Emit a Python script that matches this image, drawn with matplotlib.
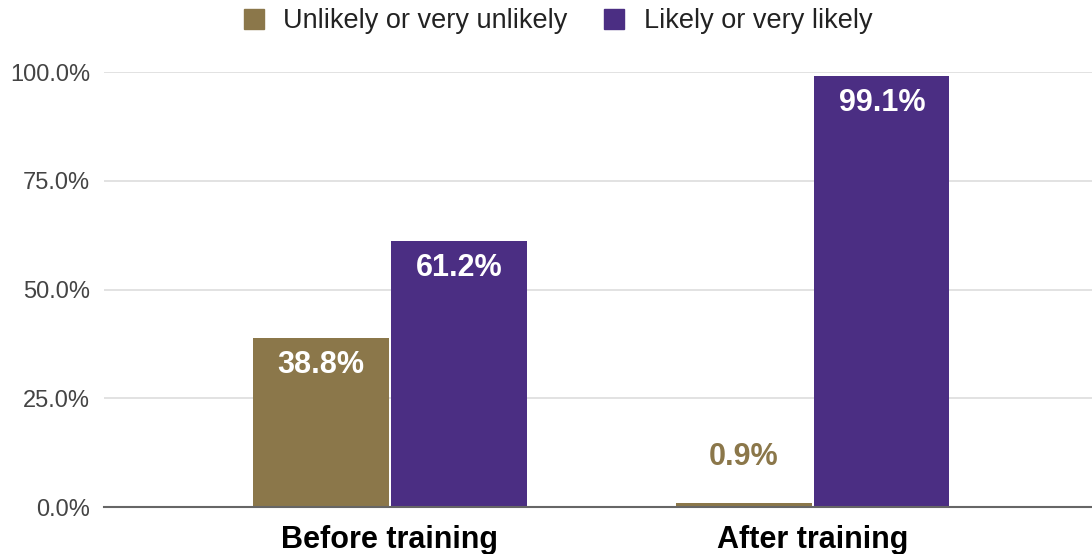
import numpy as np
import matplotlib.pyplot as plt
from matplotlib.lines import Line2D

plt.rcParams['font.family'] = ['Liberation Sans', 'DejaVu Sans']

categories = ["Before training", "After training"]
series_names = ["Unlikely or very unlikely", "Likely or very likely"]
unlikely = [38.8, 0.9]
likely = [61.2, 99.1]

gold = '#8B774A'
purple = '#4B2E83'

fig = plt.figure(figsize=(10.92, 5.54), dpi=100)
ax = fig.add_axes([104/1092, 47/554, 988/1092, 435/554])

x = np.arange(len(categories))
w = 0.32
gap = 0.003
b1 = ax.bar(x - w/2 - gap, unlikely, w, color=gold, zorder=3)
b2 = ax.bar(x + w/2 + gap, likely, w, color=purple, zorder=3)

# value labels: inside bar near top, or above bar if the bar is too short
for bars, vals, col in [(b1, unlikely, gold), (b2, likely, purple)]:
    for bar, v in zip(bars, vals):
        cx = bar.get_x() + bar.get_width()/2
        if v > 10:
            ax.annotate("{:.1f}%".format(v), (cx, v), xytext=(0, -27),
                        textcoords='offset pixels', ha='center', va='center',
                        color='white', fontsize=22, fontweight='bold', zorder=4)
        else:
            ax.annotate("{:.1f}%".format(v), (cx, v), xytext=(0, 46),
                        textcoords='offset pixels', ha='center', va='center',
                        color=col, fontsize=22, fontweight='bold', zorder=4)

ax.set_xlim(-0.676, 1.66)
ax.set_ylim(0, 100)
ax.set_yticks([0, 25, 50, 75, 100])
ax.set_yticklabels(["{:.1f}%".format(t) for t in [0, 25, 50, 75, 100]],
                   fontsize=17, color='#444444')
ax.set_xticks(x)
ax.set_xticklabels(categories, fontsize=22, fontweight='bold', color='black')
ax.tick_params(axis='both', length=0)
ax.tick_params(axis='y', pad=10)
ax.tick_params(axis='x', pad=13)
ax.grid(axis='y', color='#dddddd', linewidth=1.2, zorder=0)
for s in ['top', 'right', 'left']:
    ax.spines[s].set_visible(False)
ax.spines['bottom'].set_color('#666666')
ax.spines['bottom'].set_linewidth(1.5)
ax.spines['bottom'].set_zorder(5)

handles = [Line2D([], [], marker='s', linestyle='None', markersize=15, color=c)
           for c in [gold, purple]]
fig.legend(handles, series_names, loc='center', bbox_to_anchor=(0.503, 0.962),
           ncol=2, frameon=False, fontsize=19.5, handletextpad=0.1,
           columnspacing=0.7, labelcolor='#222222')

fig.savefig('out.png', dpi=100)
